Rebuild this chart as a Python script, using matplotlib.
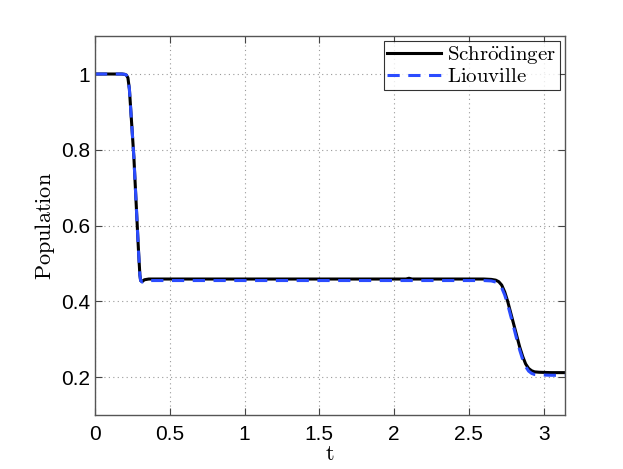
import numpy as np
import matplotlib
matplotlib.use("Agg")
import matplotlib.pyplot as plt

plt.rcParams['mathtext.fontset'] = 'cm'
plt.rcParams['font.family'] = ['Liberation Sans', 'DejaVu Sans']

# Schrödinger population
t_s = [0.0, 0.10, 0.18, 0.20, 0.21, 0.22, 0.23, 0.24, 0.25, 0.26, 0.27, 0.28,
       0.29, 0.30, 0.305, 0.315, 0.33, 0.36, 0.50, 1.00, 1.50, 2.00, 2.08, 2.10,
       2.12, 2.50, 2.60, 2.65, 2.68, 2.70, 2.72, 2.74, 2.76, 2.78, 2.80, 2.82,
       2.84, 2.86, 2.88, 2.90, 2.92, 2.94, 2.97, 3.05, 3.1416]
p_s = [1.0, 1.0, 1.0, 0.999, 0.997, 0.99, 0.96, 0.90, 0.84, 0.78, 0.70, 0.62,
       0.54, 0.47, 0.455, 0.452, 0.457, 0.459, 0.459, 0.459, 0.459, 0.459, 0.459, 0.461,
       0.459, 0.459, 0.459, 0.458, 0.456, 0.452, 0.443, 0.425, 0.40, 0.37, 0.34, 0.31,
       0.28, 0.255, 0.235, 0.223, 0.217, 0.214, 0.213, 0.212, 0.212]

# Liouville population
t_l = [0.0, 0.10, 0.18, 0.20, 0.21, 0.22, 0.23, 0.24, 0.25, 0.26, 0.27, 0.28,
       0.29, 0.30, 0.305, 0.315, 0.33, 0.36, 0.50, 1.00, 1.50, 2.00, 2.50, 2.60,
       2.65, 2.68, 2.70, 2.72, 2.74, 2.76, 2.78, 2.80, 2.82, 2.84, 2.86, 2.88,
       2.90, 2.92, 2.94, 2.97, 3.05, 3.1416]
p_l = [1.0, 1.0, 1.0, 0.999, 0.997, 0.99, 0.96, 0.90, 0.84, 0.78, 0.70, 0.62,
       0.54, 0.47, 0.455, 0.451, 0.454, 0.455, 0.455, 0.455, 0.455, 0.455, 0.455, 0.455,
       0.454, 0.451, 0.446, 0.436, 0.417, 0.392, 0.362, 0.332, 0.301, 0.272, 0.247, 0.228,
       0.216, 0.210, 0.207, 0.206, 0.205, 0.205]

xticks = [0, 0.5, 1, 1.5, 2, 2.5, 3]
xticklabels = ['0', '0.5', '1', '1.5', '2', '2.5', '3']
yticks = [0.2, 0.4, 0.6, 0.8, 1.0]
yticklabels = ['0.2', '0.4', '0.6', '0.8', '1']

fig = plt.figure(figsize=(6.23, 4.69), dpi=100)
ax = fig.add_axes([0.1525, 0.115, 0.754, 0.808])

ax.plot(t_s, p_s, color='black', lw=2.2, label=r'$\mathrm{Schr\ddot{o}dinger}$')
ax.plot(t_l, p_l, color='#2b4cff', lw=2.2, ls=(0, (4, 2.8)), label=r'$\mathrm{Liouville}$')

ax.set_xlim(0, np.pi)
ax.set_ylim(0.1, 1.1)
ax.set_xticks(xticks)
ax.set_xticklabels(xticklabels)
ax.set_yticks(yticks)
ax.set_yticklabels(yticklabels)
ax.tick_params(direction='in', length=5, width=0.8, top=True, right=True,
               labelsize=15, colors='#444444', labelcolor='black')
ax.tick_params(axis='x', pad=7)
ax.tick_params(axis='y', pad=3.5)
ax.grid(True, ls=(0, (1, 3)), color='#999999', lw=0.8)
for sp in ax.spines.values():
    sp.set_color('#555555')
    sp.set_linewidth(1.0)

ax.set_xlabel(r'$\mathrm{t}$', fontsize=16, labelpad=0)
ax.set_ylabel(r'$\mathrm{Population}$', fontsize=16, labelpad=3)

leg = ax.legend(loc='upper right', fontsize=15, frameon=True, fancybox=False,
                borderpad=0.15, labelspacing=0.05, handlelength=2.6,
                handletextpad=0.3, borderaxespad=0.25)
leg.get_frame().set_edgecolor('black')
leg.get_frame().set_linewidth(0.8)

fig.savefig('out.png', dpi=100, facecolor='white')
